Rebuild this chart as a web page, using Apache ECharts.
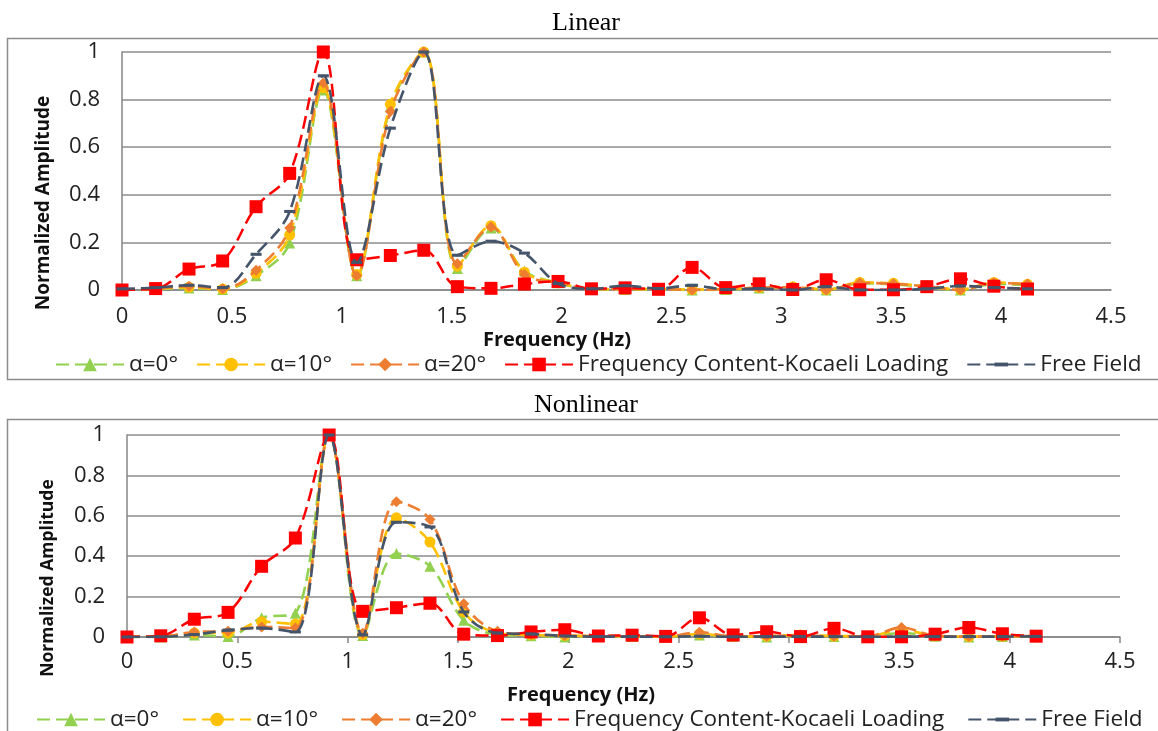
<!DOCTYPE html>
<html><head><meta charset="utf-8">
<script src="https://cdn.jsdelivr.net/npm/echarts@6/dist/echarts.min.js"></script>
<style>html,body{margin:0;padding:0;background:#fff}#c{width:1158px;height:731px}</style>
</head><body><div id="c"></div>
<script>
// Frequency (Hz) of the spectral points
const freq = [0, 0.153, 0.305, 0.458, 0.61, 0.763, 0.916, 1.068, 1.221, 1.373, 1.526, 1.679, 1.831, 1.984, 2.136, 2.289, 2.441, 2.594, 2.747, 2.899, 3.052, 3.204, 3.357, 3.51, 3.662, 3.815, 3.967, 4.12];
const xTicks = ['0','0.5','1','1.5','2','2.5','3','3.5','4','4.5'];
const yTicks = ['0','0.2','0.4','0.6','0.8','1'];
const seriesNames = ['α=0°','α=10°','α=20°','Frequency Content-Kocaeli Loading','Free Field'];

// Input motion (same in both panels)
const kocaeli = [0, 0.006, 0.088, 0.122, 0.35, 0.49, 1.0, 0.127, 0.145, 0.167, 0.014, 0.007, 0.025, 0.036, 0.005, 0.009, 0.003, 0.095, 0.01, 0.026, 0.002, 0.043, 0.001, 0.001, 0.014, 0.047, 0.016, 0.004];

// Linear panel
const linA0 = [0, 0.004, 0.008, 0.002, 0.06, 0.197, 0.84, 0.06, 0.77, 1.0, 0.09, 0.26, 0.08, 0.03, 0.004, 0.002, 0.003, 0.0, 0.002, 0.008, 0.01, 0.0, 0.028, 0.024, 0.012, 0.0, 0.025, 0.02];
const linA10 = [0.002, 0.005, 0.012, 0.004, 0.07, 0.231, 0.85, 0.065, 0.78, 1.0, 0.1, 0.27, 0.075, 0.03, 0.005, 0.003, 0.004, 0.002, 0.004, 0.01, 0.014, 0.002, 0.032, 0.028, 0.016, 0.002, 0.032, 0.024];
const linA20 = [0.002, 0.006, 0.016, 0.005, 0.083, 0.26, 0.87, 0.06, 0.75, 1.0, 0.11, 0.265, 0.065, 0.03, 0.005, 0.004, 0.004, 0.0, 0.004, 0.01, 0.012, 0.0, 0.03, 0.026, 0.015, 0.0, 0.03, 0.025];
const linFree = [0.005, 0.01, 0.02, 0.01, 0.15, 0.33, 0.9, 0.116, 0.68, 1.0, 0.146, 0.205, 0.155, 0.027, 0.005, 0.018, 0.006, 0.02, 0.002, 0.006, 0.0, 0.014, 0.0, 0.0, 0.005, 0.017, 0.01, 0.005];

// Nonlinear panel
const nlA0 = [0, 0, 0.01, 0.002, 0.095, 0.118, 1.0, 0.008, 0.413, 0.35, 0.083, 0.012, 0.006, 0.0, 0.002, 0.002, 0.001, 0.01, 0.002, 0.0, 0.004, 0.002, 0.002, 0.02, 0.004, 0.0, 0.002, 0.004];
const nlA10 = [0.003, 0.002, 0.02, 0.02, 0.076, 0.064, 1.0, 0.012, 0.59, 0.47, 0.124, 0.02, 0.01, 0.008, 0.004, 0.004, 0.002, 0.015, 0.003, 0.004, 0.01, 0.005, 0.004, 0.035, 0.006, 0.002, 0.004, 0.005];
const nlA20 = [0.002, 0.002, 0.025, 0.029, 0.05, 0.044, 1.0, 0.018, 0.67, 0.582, 0.165, 0.028, 0.012, 0.008, 0.004, 0.004, 0.002, 0.024, 0.003, 0.004, 0.008, 0.004, 0.004, 0.047, 0.006, 0.002, 0.004, 0.005];
const nlFree = [0, 0.001, 0.012, 0.034, 0.044, 0.025, 1.0, 0.01, 0.568, 0.545, 0.124, 0.02, 0.015, 0.005, 0.002, 0.002, 0.001, 0.004, 0.001, 0.002, 0.002, 0.002, 0.001, 0.002, 0.002, 0.002, 0.002, 0.003];

const FONT = 'Open Sans';
// dash marker drawn inside a square box so it keeps its flat shape everywhere
const DASH = 'path://M0,0 L0,0 M10,10 L10,10 M0,3.6 L10,3.6 L10,6.4 L0,6.4 Z';
const styles = [
  {color:'#92D050', symbol:'triangle', size:11},
  {color:'#FFC000', symbol:'circle', size:11},
  {color:'#ED7D31', symbol:'diamond', size:11},
  {color:'#FF0000', symbol:'rect', size:13},
  {color:'#44546A', symbol:DASH, size:11}
];
function mk(idx, arr, g){
  const s = styles[idx];
  return {
    name: seriesNames[idx], type:'line', xAxisIndex:g, yAxisIndex:g,
    data: freq.map((f,i)=>[f, arr[i]]),
    smooth: 0.35, symbol: s.symbol, symbolSize: s.size, showSymbol: true,
    lineStyle:{color:s.color, width: idx===3?2.5:2.6, type:[13,6]},
    itemStyle:{color:s.color},
    z: 2+idx, animation:false
  };
}
function xAx(g, ticks){
  return {type:'value', gridIndex:g, min:0, max:4.5, interval:0.5,
    axisLine:{show:true, lineStyle:{color:'#868686', width:1.5}},
    axisTick:{show:ticks, length:6, lineStyle:{color:'#868686', width:1.5}},
    splitLine:{show:false},
    axisLabel:{fontFamily:FONT, fontSize:22, color:'#222', margin:ticks?14:16,
      formatter:(v)=>xTicks[Math.round(v/0.5)]}};
}
function yAx(g){
  return {type:'value', gridIndex:g, min:0, max:1, interval:0.2,
    axisLine:{show:true, lineStyle:{color:'#868686', width:1.5}},
    axisTick:{show:false},
    splitLine:{show:true, lineStyle:{color:'#8c8c8c', width:1.5}},
    axisLabel:{fontFamily:FONT, fontSize:22, color:'#222', margin:22,
      formatter:(v)=>yTicks[Math.round(v/0.2)]}};
}
const legendCommon = {itemWidth:68, itemHeight:17,
  textStyle:{fontFamily:FONT, fontSize:22.5, color:'#222'}, data: seriesNames};

const chart = echarts.init(document.getElementById('c'), null, {renderer:'canvas'});
chart.setOption({
  animation:false,
  backgroundColor:'#fff',
  grid:[
    {left:122, top:52, width:989, height:238},
    {left:127, top:435, width:993, height:202}
  ],
  xAxis:[xAx(0,false), xAx(1,true)],
  yAxis:[yAx(0), yAx(1)],
  legend:[
    Object.assign({left:50, top:348, itemGap:18}, legendCommon),
    Object.assign({left:31, top:703, itemGap:23}, legendCommon)
  ],
  graphic:[
    {type:'rect', shape:{x:7.5, y:38.5, width:1152, height:341}, style:{fill:'none', stroke:'#8c8c8c', lineWidth:1.5}, z:-1},
    {type:'rect', shape:{x:7.5, y:419.5, width:1152, height:330}, style:{fill:'none', stroke:'#8c8c8c', lineWidth:1.5}, z:-1},
    {type:'text', x:586, y:23, style:{text:'Linear', font:'26px "Liberation Serif"', fill:'#000', textAlign:'center', textVerticalAlign:'middle'}},
    {type:'text', x:586, y:405, style:{text:'Nonlinear', font:'26px "Liberation Serif"', fill:'#000', textAlign:'center', textVerticalAlign:'middle'}},
    {type:'text', x:557, y:340, style:{text:'Frequency (Hz)', font:'bold 20px "Open Sans"', fill:'#111', textAlign:'center', textVerticalAlign:'middle'}},
    {type:'text', x:581, y:695, style:{text:'Frequency (Hz)', font:'bold 20px "Open Sans"', fill:'#111', textAlign:'center', textVerticalAlign:'middle'}},
    {type:'text', x:44, y:203, rotation:Math.PI/2, style:{text:'Normalized Amplitude', font:'bold 19px "Open Sans"', fill:'#111', textAlign:'center', textVerticalAlign:'middle'}},
    {type:'text', x:48, y:578, rotation:Math.PI/2, style:{text:'Normalized Amplitude', font:'bold 17.5px "Open Sans"', fill:'#111', textAlign:'center', textVerticalAlign:'middle'}}
  ],
  series:[
    mk(0, linA0, 0), mk(1, linA10, 0), mk(2, linA20, 0), mk(3, kocaeli, 0), mk(4, linFree, 0),
    mk(0, nlA0, 1), mk(1, nlA10, 1), mk(2, nlA20, 1), mk(3, kocaeli, 1), mk(4, nlFree, 1)
  ]
});
</script></body></html>
